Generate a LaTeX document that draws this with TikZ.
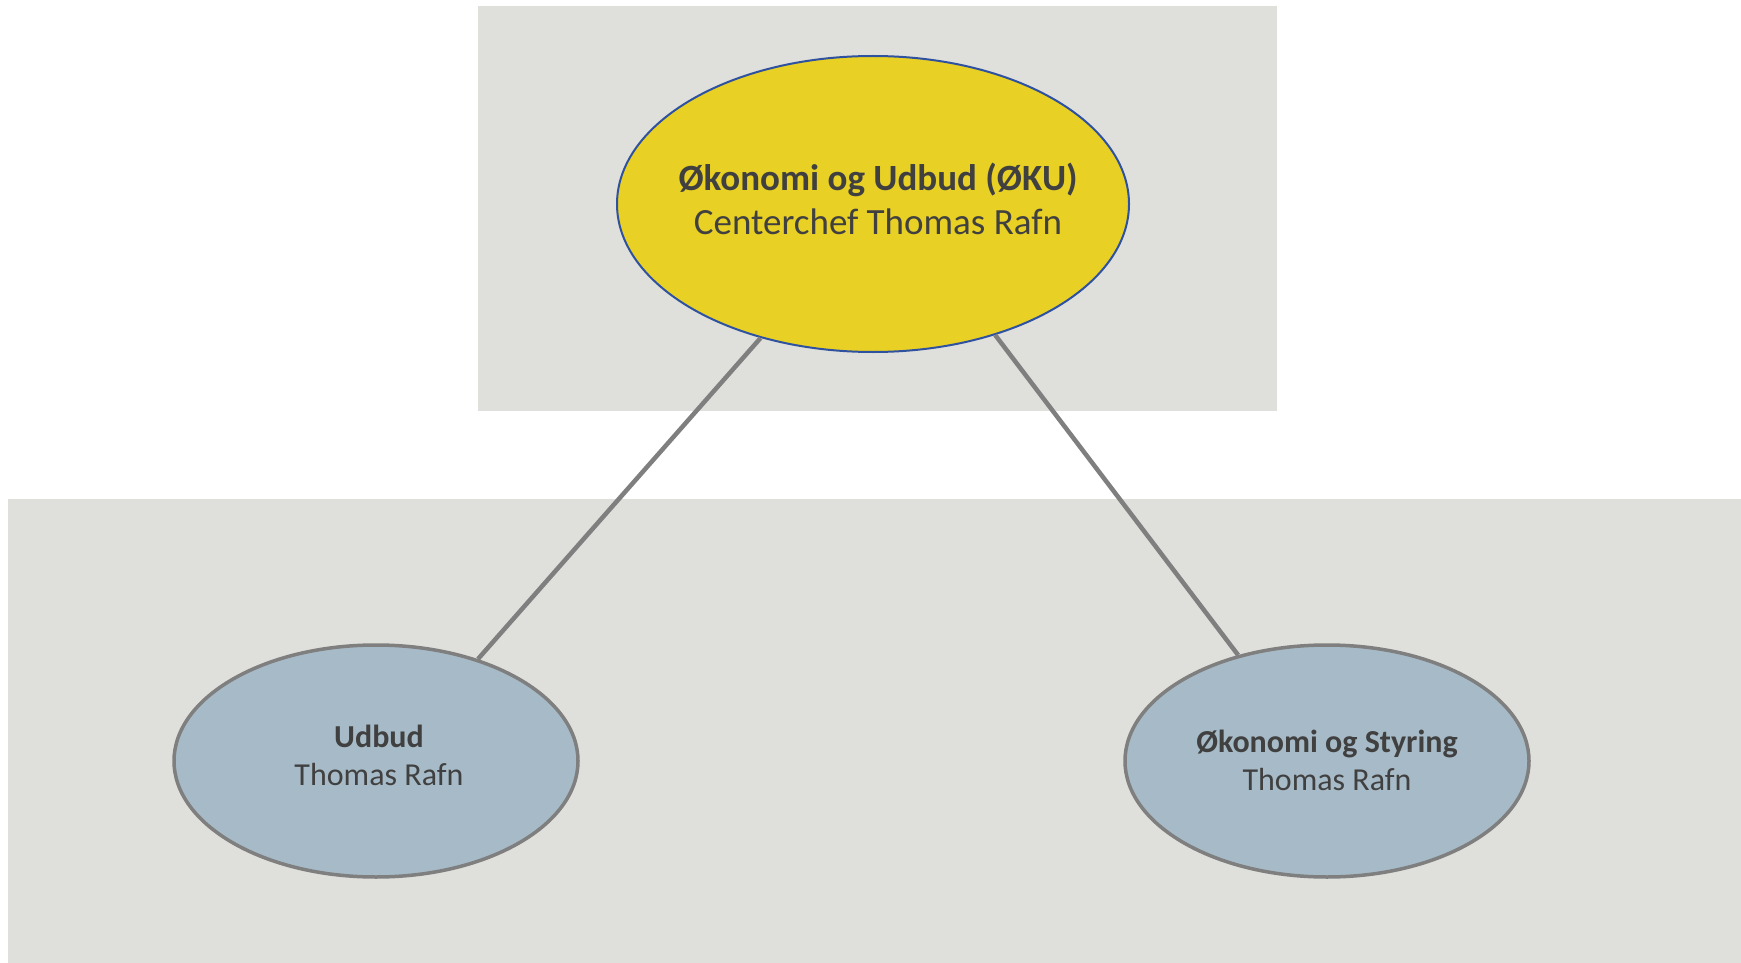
\documentclass[tikz,border=0pt]{standalone}
\usepackage{fontspec}
\setmainfont{Carlito}
\usetikzlibrary{shapes.geometric}
\definecolor{panelgrey}{HTML}{DFDFDB}
\definecolor{chiefyellow}{HTML}{E8D024}
\definecolor{chiefblue}{HTML}{2F52A0}
\definecolor{unitblue}{HTML}{A6BBC7}
\definecolor{linegrey}{HTML}{7F7F7F}
\definecolor{textgrey}{HTML}{404040}
\begin{document}
\begin{tikzpicture}[x=1pt, y=-1pt,
    chief/.style={ellipse, draw=chiefblue, line width=2pt, fill=chiefyellow,
        minimum width=512pt, minimum height=296pt, inner sep=0pt},
    unit/.style={ellipse, draw=linegrey, line width=3.5pt, fill=unitblue,
        minimum width=404pt, minimum height=232pt, inner sep=0pt},
    chieftext/.style={align=center, text=textgrey, inner sep=0pt,
        font=\fontsize{37}{44}\selectfont},
    unittext/.style={align=center, text=textgrey, inner sep=0pt,
        font=\fontsize{32}{38}\selectfont},
    link/.style={draw=linegrey, line width=4.5pt}]
    \useasboundingbox (0,0) rectangle (1741,963);
    \fill[panelgrey] (478,6) rectangle (1277,411);
    \fill[panelgrey] (8,499) rectangle (1741,963);
    \node[chief] (oku) at (873,204) {};
    \node[unit] (udbud) at (376,761) {};
    \node[unit] (styring) at (1327,761) {};
    \node[chieftext, xshift=5pt, yshift=5pt] (okutext) at (oku) {\textbf{Økonomi og Udbud (ØKU)}\\Centerchef Thomas Rafn};
    \node[unittext, xshift=3pt, yshift=6pt] (udbudtext) at (udbud) {\textbf{Udbud}\\Thomas Rafn};
    \node[unittext, yshift=1pt] (styringtext) at (styring) {\textbf{Økonomi og Styring}\\Thomas Rafn};
    \draw[link] (oku.230) -- (udbud.45);
    \draw[link] (oku.-47) -- (styring.130);
\end{tikzpicture}
\end{document}
